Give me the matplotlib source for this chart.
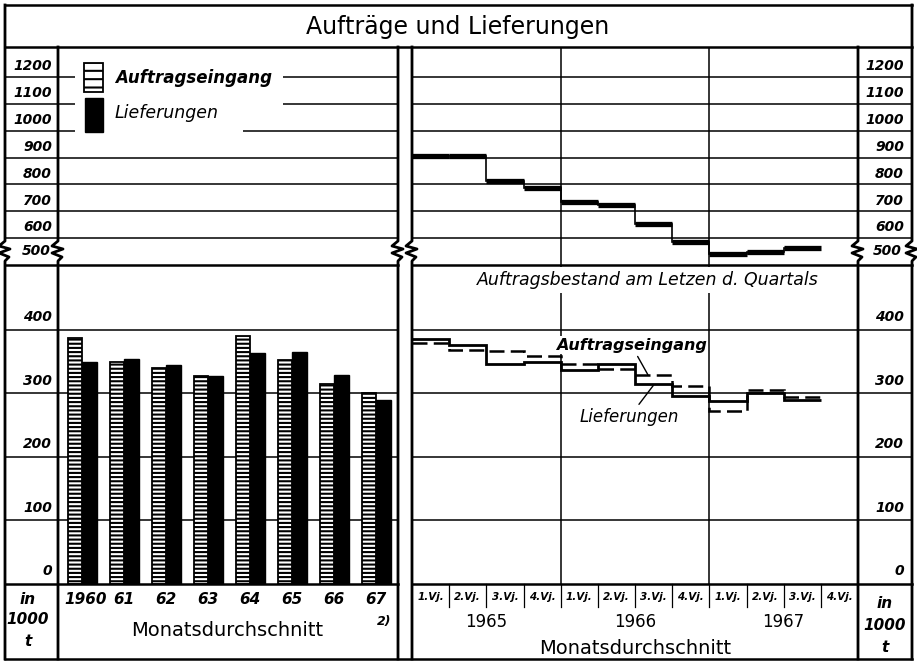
import numpy as np
import matplotlib
matplotlib.use('Agg')
import matplotlib.pyplot as plt
import matplotlib.transforms as mtransforms
from matplotlib.lines import Line2D
from matplotlib.patches import Rectangle

# Monatsdurchschnitt je Jahr (in 1000 t)
jahre = ['1960', '61', '62', '63', '64', '65', '66', '67']
auftragseingang_jahr = [387, 350, 340, 327, 390, 353, 315, 300]
lieferungen_jahr = [350, 354, 344, 327, 364, 365, 329, 290]

# Quartale 1965-1967 (4. Vj. 1967 fehlt)
quartale = ['1.Vj.', '2.Vj.', '3.Vj.', '4.Vj.'] * 3
quartal_jahre = ['1965', '1966', '1967']
auftragsbestand = [905, 905, 812, 786, 735, 725, 654, 587, 540, 550, 563]
auftragseingang_q = [379, 369, 366, 359, 346, 338, 329, 312, 273, 306, 295]
lieferungen_q = [385, 376, 346, 349, 336, 346, 314, 296, 288, 301, 290]

ticks_oben = [600, 700, 800, 900, 1000, 1100, 1200]
ticks_unten = [0, 100, 200, 300, 400]

plt.rcParams['font.family'] = 'DejaVu Sans'
plt.rcParams['hatch.linewidth'] = 1.5

W, H = 917, 663
fig = plt.figure(figsize=(W / 100, H / 100), dpi=100)


def fx(px):
    return px / W


def fy(py):
    return 1 - py / H


def box(x0, x1, y0, y1):
    return [fx(x0), fy(y1), fx(x1) - fx(x0), fy(y0) - fy(y1)]


def fline(xs, ys, lw=1.8):
    fig.add_artist(Line2D([fx(x) for x in xs], [fy(y) for y in ys],
                          color='k', lw=lw, zorder=4))


def senkrechte(x, y0, y1):
    # senkrechte Linie mit Bruch-Zickzack
    zz = [(0, -10), (-6, -5), (5, -2), (-6, 2), (4, 6), (0, 10)]
    xs = [x] + [x + dx for dx, dy in zz] + [x]
    ys = [y0] + [251 + dy for dx, dy in zz] + [y1]
    fline(xs, ys, lw=2)


ax_ol = fig.add_axes(box(58, 398, 47, 265))
ax_ul = fig.add_axes(box(58, 398, 265, 584))
ax_or = fig.add_axes(box(412, 858, 47, 265))
ax_ur = fig.add_axes(box(412, 858, 265, 584))

for ax in (ax_ol, ax_ul, ax_or, ax_ur):
    ax.set_xticks([])
    ax.set_yticks([])
    for s in ax.spines.values():
        s.set_visible(False)

ax_ol.set_xlim(-0.571, 7.52)
ax_ul.set_xlim(-0.571, 7.52)
ax_or.set_xlim(0, 12)
ax_ur.set_xlim(0, 12)
ax_ol.set_ylim(500, 1312)
ax_or.set_ylim(500, 1312)
ax_ul.set_ylim(0, 502)
ax_ur.set_ylim(0, 502)

# Gitterlinien bis in die Beschriftungsspalten
links_min = -53 / 340
rechts_max = 500 / 446
for v in ticks_oben:
    ax_ol.axhline(v, xmin=links_min, xmax=1, color='k', lw=1.1, clip_on=False, zorder=1)
    ax_or.axhline(v, xmin=0, xmax=rechts_max, color='k', lw=1.1, clip_on=False, zorder=1)
for v in ticks_unten[1:]:
    ax_ul.axhline(v, xmin=links_min, xmax=1, color='k', lw=1.1, clip_on=False, zorder=1)
    ax_ur.axhline(v, xmin=0, xmax=rechts_max, color='k', lw=1.1, clip_on=False, zorder=1)
for ax in (ax_or, ax_ur):
    for v in (4, 8):
        ax.axvline(v, color='k', lw=1.1, zorder=1)

# Achsenbeschriftungen
zahl = dict(fontsize=10, fontstyle='italic', fontweight='bold', ha='right', va='center')
for ax, xpos in ((ax_ol, -0.018), (ax_or, 1.103)):
    tr = mtransforms.blended_transform_factory(ax.transAxes, ax.transData)
    for v in ticks_oben:
        ax.text(xpos, v + 40, str(v), transform=tr, **zahl)
    ax.text(xpos - 0.004, 552, '500', transform=tr, **zahl)
for ax, xpos in ((ax_ul, -0.018), (ax_ur, 1.103)):
    tr = mtransforms.blended_transform_factory(ax.transAxes, ax.transData)
    for v in ticks_unten:
        ax.text(xpos, v + 20, str(v), transform=tr, **zahl)

# Balken links
x = np.arange(len(jahre))
ax_ul.bar(x - 0.17, auftragseingang_jahr, width=0.33, color='white',
          edgecolor='k', hatch='----', lw=1.3, zorder=3)
ax_ul.bar(x + 0.17, lieferungen_jahr, width=0.36, color='k', edgecolor='k', zorder=3)

tr_l = mtransforms.blended_transform_factory(ax_ul.transData, fig.transFigure)
for i, j in enumerate(jahre):
    ax_ul.text(i + (0.08 if i == 0 else 0), fy(599), j, transform=tr_l, ha='center', va='center',
               fontsize=11, fontstyle='italic', fontweight='bold')
fig.text(fx(384), fy(622), '2)', fontsize=9, fontstyle='italic', fontweight='bold',
         ha='center', va='center')
fig.text(fx(227), fy(630), 'Monatsdurchschnitt', fontsize=14, ha='center', va='center')

# Treppenlinien rechts
kanten = np.arange(len(auftragsbestand) + 1)
ax_or.hlines(auftragsbestand, kanten[:-1], kanten[1:], color='k', lw=3.8, zorder=3)
ax_or.stairs(auftragsbestand, kanten, baseline=None, color='k', lw=1.2, zorder=3)

ax_ur.stairs(lieferungen_q, kanten, baseline=None, color='k', lw=2.0, zorder=3)
ax_ur.stairs(auftragseingang_q, kanten, baseline=None, color='k', lw=1.8,
             linestyle=(0, (6, 2.5)), zorder=3)

ax_ur.text(6.35, 478, 'Auftragsbestand am Letzen d. Quartals', ha='center', va='center',
           fontsize=12.5, fontstyle='italic', zorder=5,
           bbox=dict(facecolor='white', edgecolor='none', pad=3))
ax_ur.annotate('Auftragseingang', xy=(6.35, 329), xytext=(5.9, 376), ha='center', va='center',
               fontsize=11.5, fontstyle='italic', fontweight='bold', zorder=5,
               bbox=dict(facecolor='white', edgecolor='none', pad=1),
               arrowprops=dict(arrowstyle='-', color='k', lw=1, shrinkA=2, shrinkB=0))
ax_ur.annotate('Lieferungen', xy=(6.5, 313), xytext=(5.85, 263), ha='center', va='center',
               fontsize=12, fontstyle='italic', zorder=5,
               bbox=dict(facecolor='white', edgecolor='none', pad=1),
               arrowprops=dict(arrowstyle='-', color='k', lw=1, shrinkA=2, shrinkB=0))

tr_r = mtransforms.blended_transform_factory(ax_ur.transData, fig.transFigure)
for k, q in enumerate(quartale):
    ax_ur.text(k + 0.5, fy(597), q, transform=tr_r, ha='center', va='center',
               fontsize=7.5, fontstyle='italic', fontweight='bold')
    if k > 0:
        ax_ur.plot([k, k], [fy(584), fy(607)], transform=tr_r, color='k', lw=0.9, clip_on=False)
for k, j in enumerate(quartal_jahre):
    ax_ur.text(4 * k + 2, fy(622), j, transform=tr_r, ha='center', va='center', fontsize=12)
ax_ur.text(6, fy(648), 'Monatsdurchschnitt', transform=tr_r, ha='center', va='center', fontsize=14)

# Einheit in den Randspalten
einheit = dict(fontsize=11, fontstyle='italic', fontweight='bold', ha='center', va='center')
for xc, ys in ((28, (600, 620, 642)), (885, (604, 625, 647))):
    for t, yy in zip(('in', '1000', 't'), ys):
        fig.text(fx(xc), fy(yy), t, **einheit)

# Titel
fig.text(fx(458), fy(27), 'Aufträge und Lieferungen', fontsize=17, ha='center', va='center')

# Legende
fig.add_artist(Rectangle((fx(75), fy(120)), fx(283) - fx(75), fy(62) - fy(120),
                         transform=fig.transFigure, facecolor='white', edgecolor='none', zorder=3))
fig.add_artist(Rectangle((fx(75), fy(135)), fx(243) - fx(75), fy(120) - fy(135),
                         transform=fig.transFigure, facecolor='white', edgecolor='none', zorder=3))
fig.add_artist(Rectangle((fx(84), fy(92)), fx(103) - fx(84), fy(63) - fy(92),
                         transform=fig.transFigure, facecolor='white', edgecolor='k',
                         hatch='--', lw=1.3, zorder=5))
fig.add_artist(Rectangle((fx(85), fy(132)), fx(103) - fx(85), fy(98) - fy(132),
                         transform=fig.transFigure, facecolor='k', edgecolor='k', zorder=5))
fig.text(fx(115), fy(78), 'Auftragseingang', fontsize=12, fontstyle='italic',
         fontweight='bold', va='center', zorder=6)
fig.text(fx(115), fy(113), 'Lieferungen', fontsize=12.5, fontstyle='italic',
         va='center', zorder=6)

# Rahmen
fline([5, 912], [5, 5])
fline([5, 912], [47, 47])
fline([5, 912], [659, 659])
for a, b in ((5, 398), (412, 912)):
    fline([a, b], [265, 265])
    fline([a, b], [584, 584])
senkrechte(5, 5, 659)
senkrechte(912, 5, 659)
for xv in (58, 398, 412, 858):
    senkrechte(xv, 47, 659)

fig.savefig('out.png', dpi=100, facecolor='white')
